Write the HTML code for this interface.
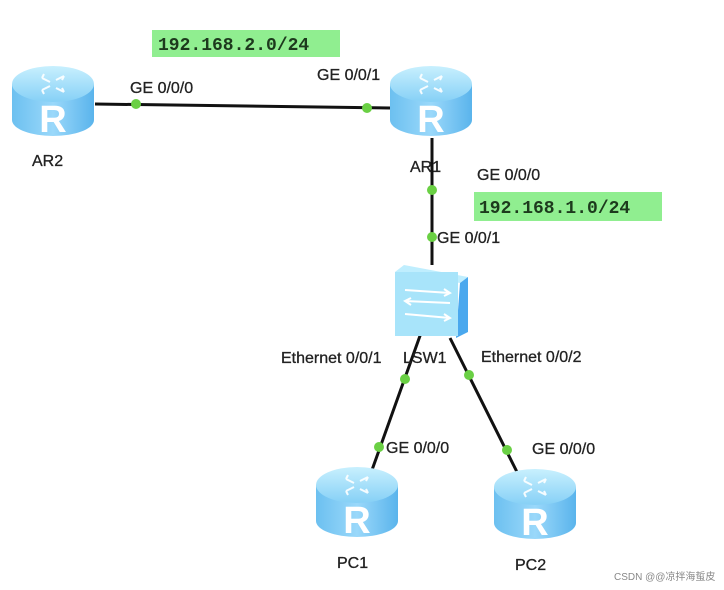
<!DOCTYPE html>
<html><head><meta charset="utf-8"><style>
body{margin:0;background:#fff;}
svg{display:block;font-family:"Liberation Sans",Arial,sans-serif;}
.l{font-size:16px;fill:#222;stroke:#222;stroke-width:0.3;}
.ip{font-family:"Liberation Mono",monospace;font-size:18px;font-weight:bold;fill:#1d3a1d;}
</style></head><body>
<svg width="724" height="590" viewBox="0 0 724 590">
<defs>
<linearGradient id="bd" x1="0" x2="1">
<stop offset="0" stop-color="#6cc0f0"/><stop offset="0.5" stop-color="#9ad8fa"/><stop offset="1" stop-color="#5ab4ec"/></linearGradient>
<linearGradient id="tp" x1="0" x2="0" y1="0" y2="1">
<stop offset="0" stop-color="#c8f0fe"/><stop offset="1" stop-color="#86d0f6"/></linearGradient>
<g id="rt">
<path d="M0,18 L0,54 A41,16 0 0 0 82,54 L82,18 Z" fill="url(#bd)"/>
<ellipse cx="41" cy="18" rx="41" ry="18" fill="url(#tp)"/>
<g stroke="#fff" stroke-width="2" fill="none" opacity="0.9">
<path d="M30,12 l8,4 M30,12 l2,-4 M52,10 l-8,4 M52,10 l-2,4 M30,24 l8,-4 M30,24 l2,4 M52,26 l-8,-4 M52,26 l-2,-4"/></g>
<text x="41" y="66" text-anchor="middle" font-size="38" font-weight="bold" fill="#fff" font-family="Liberation Sans,sans-serif">R</text>
</g>
</defs>
<g stroke="#111" stroke-width="3">
<line x1="95" y1="104" x2="390" y2="108"/>
<line x1="432" y1="138" x2="432" y2="265"/>
<line x1="421" y1="333" x2="372" y2="470"/>
<line x1="450" y1="338" x2="517" y2="472"/>
</g>
<g fill="#6ad044">
<circle cx="136" cy="104" r="5"/><circle cx="367" cy="108" r="5"/>
<circle cx="432" cy="190" r="5"/><circle cx="432" cy="237" r="5"/>
<circle cx="405" cy="379" r="5"/><circle cx="379" cy="447" r="5"/>
<circle cx="469" cy="375" r="5"/><circle cx="507" cy="450" r="5"/>
</g>
<use href="#rt" x="12" y="66"/>
<use href="#rt" x="390" y="66"/>
<use href="#rt" x="316" y="467"/>
<use href="#rt" x="494" y="469"/>
<path d="M395,272 L404,265 L468,277 L460,283 Z" fill="#bfeefe"/>
<path d="M460,283 L468,277 L468,332 L456,338 Z" fill="#4aa8ee"/>
<rect x="395" y="272" width="63" height="64" fill="#a8e4fa"/>
<g stroke="#fff" stroke-width="2" fill="none">
<path d="M405,290 L450,293 M444,289 L450,293 L444,296"/>
<path d="M450,303 L405,301 M411,298 L405,301 L411,305"/>
<path d="M405,314 L450,318 M444,314 L450,318 L444,321"/>
</g>
<rect x="152" y="30" width="188" height="27" fill="#90ee90"/>
<text x="158" y="50" class="ip">192.168.2.0/24</text>
<rect x="474" y="192" width="188" height="29" fill="#90ee90"/>
<text x="479" y="213" class="ip">192.168.1.0/24</text>
<text x="130" y="93" class="l">GE 0/0/0</text>
<text x="317" y="80" class="l">GE 0/0/1</text>
<text x="32" y="166" class="l">AR2</text>
<text x="410" y="172" class="l">AR1</text>
<text x="477" y="180" class="l">GE 0/0/0</text>
<text x="437" y="243" class="l">GE 0/0/1</text>
<text x="281" y="363" class="l">Ethernet 0/0/1</text>
<text x="403" y="363" class="l">LSW1</text>
<text x="481" y="362" class="l">Ethernet 0/0/2</text>
<text x="386" y="453" class="l">GE 0/0/0</text>
<text x="532" y="454" class="l">GE 0/0/0</text>
<text x="337" y="568" class="l">PC1</text>
<text x="515" y="570" class="l">PC2</text>
<text x="614" y="580" font-size="10" fill="#888" font-family="Liberation Sans,'Noto Sans CJK SC',sans-serif">CSDN @@凉拌海蜇皮</text>
</svg>
</body></html>
